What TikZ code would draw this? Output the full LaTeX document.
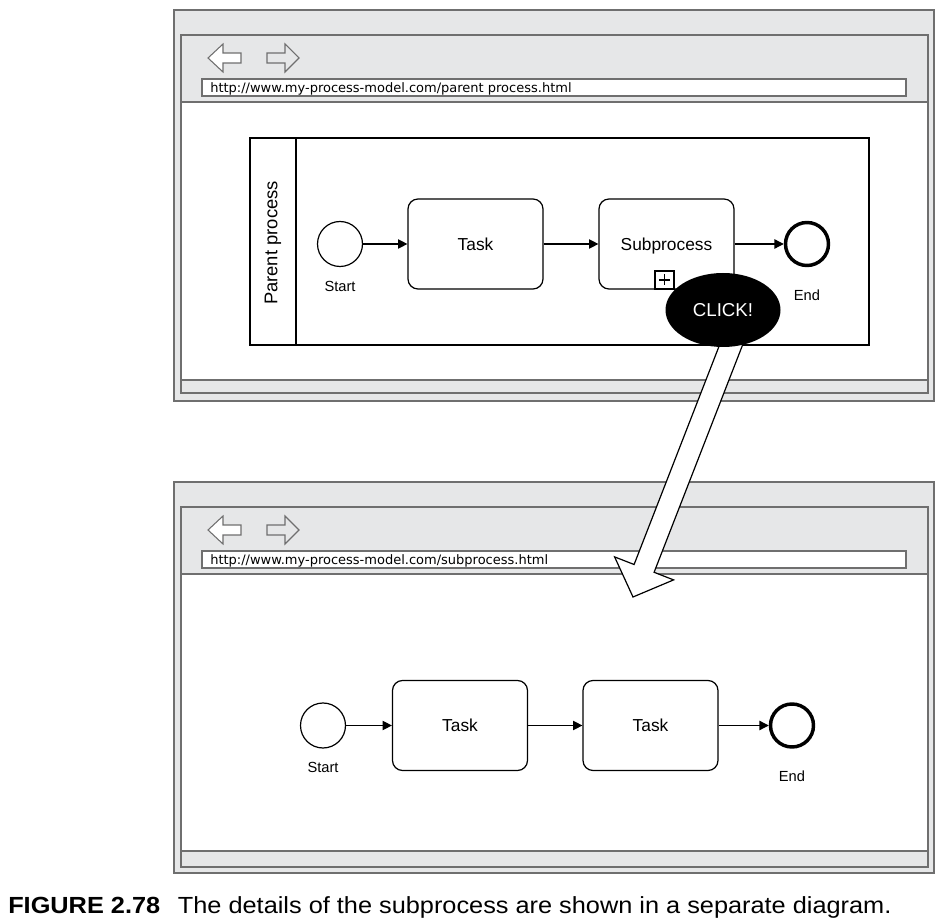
\documentclass[tikz,border=0pt]{standalone}
\usepackage{fontspec}
\setmainfont{Liberation Sans}
\newfontfamily\urlfont{DejaVu Sans}
\usetikzlibrary{arrows.meta,shapes.geometric}
\definecolor{wgray}{HTML}{E6E7E8}
\definecolor{wline}{HTML}{6F6F6F}
\tikzset{
  winframe/.style={draw=wline, line width=1.1pt, fill=wgray},
  winwhite/.style={draw=wline, line width=1.1pt, fill=white},
  backarrow/.style={draw=wline, line width=0.8pt, fill=white},
  fwdarrow/.style={draw=wline, line width=0.8pt, fill=wgray},
  urltext/.style={anchor=base west, inner sep=0, font=\urlfont\fontsize{9.75}{11}\selectfont},
  task/.style={draw, rounded corners=7.5pt, minimum width=101.25pt, minimum height=67.5pt, line width=0.9pt, inner sep=0, text depth=0pt, font=\fontsize{13}{15}\selectfont},
  startev/.style={draw, circle, minimum size=33.75pt, inner sep=0, line width=0.9pt},
  endev/.style={draw, circle, minimum size=32.25pt, inner sep=0, line width=2.6pt},
  evlabel/.style={inner sep=0, font=\fontsize{11}{13}\selectfont},
  flow/.style={line width=0.9pt, -{Triangle[length=7pt,width=7pt]}},
  poolbox/.style={draw, line width=1pt},
}
\begin{document}
\begin{tikzpicture}[x=0.75pt, y=-0.75pt]
\useasboundingbox (0,0) rectangle (947,923);

% ---------- window 1 ----------
\filldraw[winframe] (174,10) rectangle (934,401);
\filldraw[winframe] (181,35) rectangle (928,393);
\filldraw[winwhite] (181,102) rectangle (928,380);
\filldraw[winwhite] (202,79) rectangle (906,96);
\node[urltext] (url1) at (210,92.5) {http://www.my-process-model.com/parent process.html};
\filldraw[backarrow] (208,58) -- (223,44) -- (223,53) -- (241,53) -- (241,63) -- (223,63) -- (223,72) -- cycle;
\filldraw[fwdarrow] (299,58) -- (285,44) -- (285,53) -- (267,53) -- (267,63) -- (285,63) -- (285,72) -- cycle;

% pool
\draw[poolbox] (250,138) rectangle (869,345);
\draw[poolbox] (296,138) -- (296,345);
\node[rotate=90, inner sep=0, font=\fontsize{13.8}{15}\selectfont] (poollabel) at (273,243) {Parent process};

% process 1
\node[startev] (start1) at (340,244) {};
\node[evlabel] (start1l) at (340,286) {Start};
\node[task] (task1) at (475.5,244) {Task};
\node[task] (sub1) at (666.5,244) {Subprocess};
\node[endev] (end1) at (807,244) {};
\node[evlabel] (end1l) at (807,295) {End};
\draw[line width=0.9pt] (655,289) rectangle (674,271);
\draw[line width=0.9pt] (659,280) -- (670,280) (664.5,274.5) -- (664.5,285.5);
\draw[flow] (start1) -- (task1);
\draw[flow] (task1) -- (sub1);
\draw[flow] (sub1) -- (end1);

% ---------- window 2 ----------
\filldraw[winframe] (174,482) rectangle (934,873);
\filldraw[winframe] (181,507) rectangle (928,867);
\filldraw[winwhite] (181,574) rectangle (928,851);
\filldraw[winwhite] (202,551) rectangle (906,568);
\node[urltext] (url2) at (210,564.5) {http://www.my-process-model.com/subprocess.html};
\filldraw[backarrow] (208,530) -- (223,516) -- (223,525) -- (241,525) -- (241,535) -- (223,535) -- (223,544) -- cycle;
\filldraw[fwdarrow] (299,530) -- (285,516) -- (285,525) -- (267,525) -- (267,535) -- (285,535) -- (285,544) -- cycle;

% process 2
\node[startev] (start2) at (323,725.5) {};
\node[evlabel] (start2l) at (323,767) {Start};
\node[task] (task2a) at (460,725.5) {Task};
\node[task] (task2b) at (650.5,725.5) {Task};
\node[endev] (end2) at (792,725.5) {};
\node[evlabel] (end2l) at (792,776) {End};
\draw[flow] (start2) -- (task2a);
\draw[flow] (task2a) -- (task2b);
\draw[flow] (task2b) -- (end2);

% ---------- click arrow ----------
\coordinate (clicktip) at (633,597);
\filldraw[draw=black, fill=white, line width=0.9pt]
  (726.9,326.1) -- (634.1,564.5) -- (614.6,556.9) -- (clicktip) -- (673.6,579.9) -- (654.1,572.3) -- (746.9,333.9) -- cycle;
\node[ellipse, fill=black, minimum width=86.25pt, minimum height=55.5pt, inner sep=0, text=white, font=\fontsize{14}{16}\selectfont] (click) at (723,310) {CLICK!};

% ---------- caption ----------
\node[anchor=base west, inner sep=0, font=\fontsize{17.5}{20}\selectfont] (caption) at (8,913)
  {\scalebox{1.085}[1]{\textbf{FIGURE 2.78}\hspace{0.7em}The details of the subprocess are shown in a separate diagram.}};
\end{tikzpicture}
\end{document}
